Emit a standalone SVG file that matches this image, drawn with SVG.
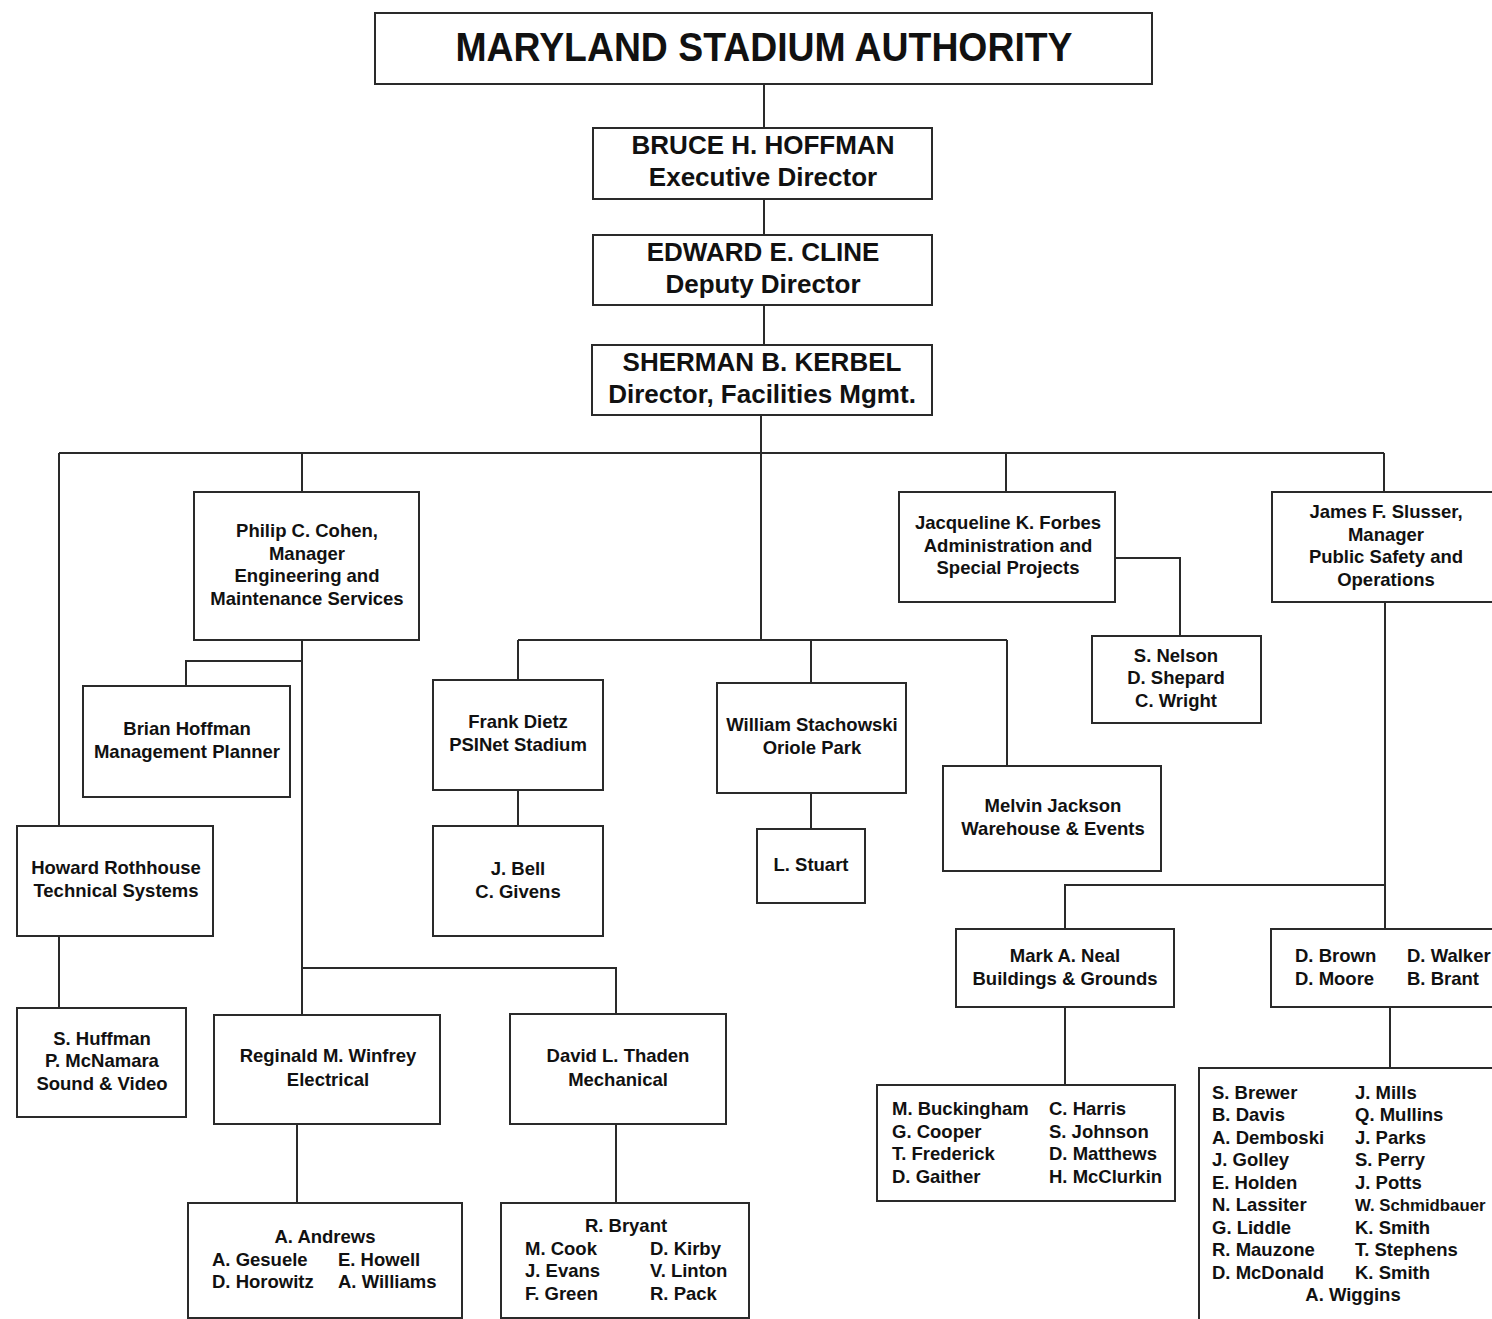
<svg xmlns="http://www.w3.org/2000/svg" width="1492" height="1319" viewBox="0 0 1492 1319">
<style>
.box{fill:#fff;stroke:#2a2a2a;stroke-width:2}
.ln{fill:none;stroke:#2a2a2a;stroke-width:2}
text{font-family:"Liberation Sans",Arial,Helvetica,sans-serif;font-weight:bold;fill:#111}
.s{font-size:18.5px}
.c{text-anchor:middle}
.big{font-size:26px}
.title{font-size:40px}
</style>
<rect width="1492" height="1319" fill="#fff"/>
<g id="connectors">
<path class="ln" d="M764 84V128M764 199V235M764 305V345"/>
<path class="ln" d="M761 415V640M59 453H1384M59 453V826M302 453V492M1006 453V492M1384 453V492"/>
<path class="ln" d="M302 640V1015M302 661H186V686M302 968H616V1014"/>
<path class="ln" d="M59 936V1008M297 1124V1203M616 1124V1203"/>
<path class="ln" d="M518 640H1007M518 640V680M811 640V683M1007 640V766M518 790V826M811 793V829"/>
<path class="ln" d="M1115 558H1180V636"/>
<path class="ln" d="M1385 602V929M1385 885H1065V929M1065 1007V1085M1390 1007V1068"/>
</g>
<g id="msa">
<rect class="box" x="375" y="13" width="777" height="71"/>
<text class="c title" x="764" y="61" textLength="617" lengthAdjust="spacingAndGlyphs">MARYLAND STADIUM AUTHORITY</text>
</g>
<g id="hoffman">
<rect class="box" x="593" y="128" width="339" height="71"/>
<text class="c big" x="763" y="154">BRUCE H. HOFFMAN</text>
<text class="c big" x="763" y="186">Executive Director</text>
</g>
<g id="cline">
<rect class="box" x="593" y="235" width="339" height="70"/>
<text class="c big" x="763" y="261">EDWARD E. CLINE</text>
<text class="c big" x="763" y="293">Deputy Director</text>
</g>
<g id="kerbel">
<rect class="box" x="592" y="345" width="340" height="70"/>
<text class="c big" x="762" y="371">SHERMAN B. KERBEL</text>
<text class="c big" x="762" y="403">Director, Facilities Mgmt.</text>
</g>
<g id="cohen">
<rect class="box" x="194" y="492" width="225" height="148"/>
<text class="c s" x="307" y="537">Philip C. Cohen,</text>
<text class="c s" x="307" y="560">Manager</text>
<text class="c s" x="307" y="582">Engineering and</text>
<text class="c s" x="307" y="605">Maintenance Services</text>
</g>
<g id="brian-hoffman">
<rect class="box" x="83" y="686" width="207" height="111"/>
<text class="c s" x="187" y="735">Brian Hoffman</text>
<text class="c s" x="187" y="758">Management Planner</text>
</g>
<g id="rothhouse">
<rect class="box" x="17" y="826" width="196" height="110"/>
<text class="c s" x="116" y="874">Howard Rothhouse</text>
<text class="c s" x="116" y="897">Technical Systems</text>
</g>
<g id="huffman">
<rect class="box" x="17" y="1008" width="169" height="109"/>
<text class="c s" x="102" y="1045">S. Huffman</text>
<text class="c s" x="102" y="1067">P. McNamara</text>
<text class="c s" x="102" y="1090">Sound &amp; Video</text>
</g>
<g id="winfrey">
<rect class="box" x="214" y="1015" width="226" height="109"/>
<text class="c s" x="328" y="1062">Reginald M. Winfrey</text>
<text class="c s" x="328" y="1086">Electrical</text>
</g>
<g id="andrews">
<rect class="box" x="188" y="1203" width="274" height="115"/>
<text class="c s" x="325" y="1243">A. Andrews</text>
<text class="s" x="212" y="1266">A. Gesuele</text>
<text class="s" x="338" y="1266">E. Howell</text>
<text class="s" x="212" y="1288">D. Horowitz</text>
<text class="s" x="338" y="1288">A. Williams</text>
</g>
<g id="thaden">
<rect class="box" x="510" y="1014" width="216" height="110"/>
<text class="c s" x="618" y="1062">David L. Thaden</text>
<text class="c s" x="618" y="1086">Mechanical</text>
</g>
<g id="bryant">
<rect class="box" x="501" y="1203" width="248" height="115"/>
<text class="c s" x="626" y="1232">R. Bryant</text>
<text class="s" x="525" y="1255">M. Cook</text>
<text class="s" x="650" y="1255">D. Kirby</text>
<text class="s" x="525" y="1277">J. Evans</text>
<text class="s" x="650" y="1277">V. Linton</text>
<text class="s" x="525" y="1300">F. Green</text>
<text class="s" x="650" y="1300">R. Pack</text>
</g>
<g id="dietz">
<rect class="box" x="433" y="680" width="170" height="110"/>
<text class="c s" x="518" y="728">Frank Dietz</text>
<text class="c s" x="518" y="751">PSINet Stadium</text>
</g>
<g id="bell">
<rect class="box" x="433" y="826" width="170" height="110"/>
<text class="c s" x="518" y="875">J. Bell</text>
<text class="c s" x="518" y="898">C. Givens</text>
</g>
<g id="stachowski">
<rect class="box" x="717" y="683" width="189" height="110"/>
<text class="c s" x="812" y="731">William Stachowski</text>
<text class="c s" x="812" y="754">Oriole Park</text>
</g>
<g id="stuart">
<rect class="box" x="757" y="829" width="108" height="74"/>
<text class="c s" x="811" y="871">L. Stuart</text>
</g>
<g id="jackson">
<rect class="box" x="943" y="766" width="218" height="105"/>
<text class="c s" x="1053" y="812">Melvin Jackson</text>
<text class="c s" x="1053" y="835">Warehouse &amp; Events</text>
</g>
<g id="forbes">
<rect class="box" x="899" y="492" width="216" height="110"/>
<text class="c s" x="1008" y="529">Jacqueline K. Forbes</text>
<text class="c s" x="1008" y="552">Administration and</text>
<text class="c s" x="1008" y="574">Special Projects</text>
</g>
<g id="nelson">
<rect class="box" x="1092" y="636" width="169" height="87"/>
<text class="c s" x="1176" y="662">S. Nelson</text>
<text class="c s" x="1176" y="684">D. Shepard</text>
<text class="c s" x="1176" y="707">C. Wright</text>
</g>
<g id="slusser">
<rect class="box" x="1272" y="492" width="240" height="110"/>
<text class="c s" x="1386" y="518">James F. Slusser,</text>
<text class="c s" x="1386" y="541">Manager</text>
<text class="c s" x="1386" y="563">Public Safety and</text>
<text class="c s" x="1386" y="586">Operations</text>
</g>
<g id="neal">
<rect class="box" x="956" y="929" width="218" height="78"/>
<text class="c s" x="1065" y="962">Mark A. Neal</text>
<text class="c s" x="1065" y="985">Buildings &amp; Grounds</text>
</g>
<g id="buckingham">
<rect class="box" x="877" y="1085" width="298" height="116"/>
<text class="s" x="892" y="1115">M. Buckingham</text>
<text class="s" x="892" y="1138">G. Cooper</text>
<text class="s" x="892" y="1160">T. Frederick</text>
<text class="s" x="892" y="1183">D. Gaither</text>
<text class="s" x="1049" y="1115">C. Harris</text>
<text class="s" x="1049" y="1138">S. Johnson</text>
<text class="s" x="1049" y="1160">D. Matthews</text>
<text class="s" x="1049" y="1183">H. McClurkin</text>
</g>
<g id="brown">
<rect class="box" x="1271" y="929" width="240" height="78"/>
<text class="s" x="1295" y="962">D. Brown</text>
<text class="s" x="1407" y="962">D. Walker</text>
<text class="s" x="1295" y="985">D. Moore</text>
<text class="s" x="1407" y="985">B. Brant</text>
</g>
<g id="brewer">
<rect class="box" x="1199" y="1068" width="320" height="270"/>
<text class="s" x="1212" y="1099">S. Brewer</text>
<text class="s" x="1212" y="1121">B. Davis</text>
<text class="s" x="1212" y="1144">A. Demboski</text>
<text class="s" x="1212" y="1166">J. Golley</text>
<text class="s" x="1212" y="1189">E. Holden</text>
<text class="s" x="1212" y="1211">N. Lassiter</text>
<text class="s" x="1212" y="1234">G. Liddle</text>
<text class="s" x="1212" y="1256">R. Mauzone</text>
<text class="s" x="1212" y="1279">D. McDonald</text>
<text class="s" x="1355" y="1099">J. Mills</text>
<text class="s" x="1355" y="1121">Q. Mullins</text>
<text class="s" x="1355" y="1144">J. Parks</text>
<text class="s" x="1355" y="1166">S. Perry</text>
<text class="s" x="1355" y="1189">J. Potts</text>
<text x="1355" y="1211" style="font-size:16.8px">W. Schmidbauer</text>
<text class="s" x="1355" y="1234">K. Smith</text>
<text class="s" x="1355" y="1256">T. Stephens</text>
<text class="s" x="1355" y="1279">K. Smith</text>
<text class="c s" x="1353" y="1301">A. Wiggins</text>
</g>
</svg>
